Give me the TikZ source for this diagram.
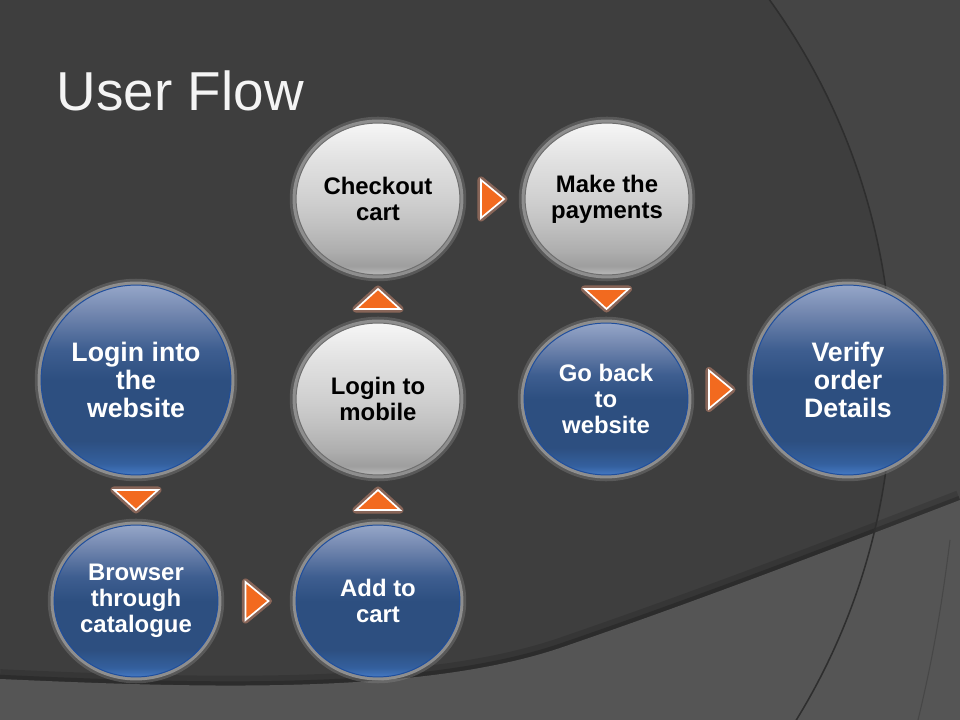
\documentclass[tikz,border=0pt]{standalone}
\usepackage{fontspec}
\setmainfont{Liberation Sans}
\usetikzlibrary{shapes.geometric,calc}

\definecolor{bgdark}{HTML}{3E3E3E}
\definecolor{bgright}{HTML}{454545}
\definecolor{bgband}{HTML}{555555}
\definecolor{arcline}{HTML}{2E2E2E}
\definecolor{titlecol}{HTML}{F4F4F4}
\definecolor{bA}{HTML}{4479C4}
\definecolor{bB}{HTML}{34609E}
\definecolor{bC}{HTML}{2D4F80}
\definecolor{bD}{HTML}{3E5E90}
\definecolor{bE}{HTML}{7488B0}
\definecolor{bF}{HTML}{95A6C8}
\definecolor{gA}{HTML}{B8B8B8}
\definecolor{gB}{HTML}{9E9E9E}
\definecolor{gC}{HTML}{AEAEAE}
\definecolor{gD}{HTML}{C2C2C2}
\definecolor{gE}{HTML}{D0D0D0}
\definecolor{gG}{HTML}{E0E0E0}
\definecolor{gF}{HTML}{F6F6F6}
\definecolor{blueline}{HTML}{1F4E9C}
\definecolor{grayline}{HTML}{6E6E6E}
\definecolor{glowcol}{HTML}{8E8E8E}
\definecolor{triorange}{HTML}{F26A1F}
\definecolor{triglow}{HTML}{B07A66}

\pgfdeclareverticalshading{bluegloss}{100bp}{color(0bp)=(bA); color(25bp)=(bA); color(28bp)=(bB); color(34bp)=(bC); color(50bp)=(bC); color(58bp)=(bD); color(68bp)=(bE); color(75bp)=(bF); color(100bp)=(bF)}
\pgfdeclareverticalshading{graygloss}{100bp}{color(0bp)=(gA); color(25bp)=(gA); color(28bp)=(gB); color(33bp)=(gC); color(42bp)=(gD); color(50bp)=(gE); color(62bp)=(gG); color(75bp)=(gF); color(100bp)=(gF)}

\tikzset{
  x=0.025cm, y=-0.025cm,
  flowbase/.style={ellipse, inner sep=0pt, align=center,
    preaction={draw=glowcol, opacity=0.35, line width=9pt},
    preaction={draw=glowcol, line width=5pt}},
  bigblue/.style={flowbase, minimum width=135pt, minimum height=135pt,
    shading=bluegloss, draw=blueline, line width=0.7pt, text=white,
    font=\bfseries\fontsize{19}{20}\selectfont},
  smallblue/.style={flowbase, minimum width=116.5pt, minimum height=108pt,
    shading=bluegloss, draw=blueline, line width=0.7pt, text=white,
    font=\bfseries\fontsize{17}{18.5}\selectfont},
  smallgray/.style={flowbase, minimum width=116.5pt, minimum height=108pt,
    shading=graygloss, draw=grayline, line width=0.7pt, text=black,
    font=\bfseries\fontsize{17}{18.5}\selectfont},
  tri/.style={fill=triorange, draw=white, line width=1.2pt, line join=miter,
    preaction={draw=triglow, opacity=0.65, line width=5pt, line join=round}},
}

\begin{document}
\begin{tikzpicture}
\useasboundingbox (0,0) rectangle (960,720);
% background
\begin{scope}
  \clip (0,0) rectangle (960,720);
  \fill[bgright] (0,0) rectangle (960,720);
  \fill[bgdark] (242,380) circle[radius=16.25cm];
  \draw[black, opacity=0.12, line width=14pt]
    (0,679) .. controls (200,688) and (420,695) .. (560,648)
    .. controls (700,600) and (830,550) .. (960,500);
  \draw[black, opacity=0.18, line width=6pt]
    (0,679) .. controls (200,688) and (420,695) .. (560,648)
    .. controls (700,600) and (830,550) .. (960,500);
  \fill[bgband] (0,679) .. controls (200,688) and (420,695) .. (560,648)
    .. controls (700,600) and (830,550) .. (960,500) -- (960,720) -- (0,720) -- cycle;
  \draw[arcline, line width=1.1pt] (242,380) circle[radius=16.25cm];
  \draw[arcline, opacity=0.35, line width=0.8pt] (950,540) .. controls (940,620) and (930,670) .. (918,720);
\end{scope}

% title
\node[anchor=base west, text=titlecol, font=\fontsize{39}{47}\selectfont] (title) at (52,111) {User Flow};

% nodes
\node[bigblue]   (login)    at (136,380) {Login into\\the\\website};
\node[smallblue] (browse)   at (136,601) {Browser\\through\\catalogue};
\node[smallblue] (add)      at (378,601) {Add to\\cart};
\node[smallgray] (mobile)   at (378,399) {Login to\\mobile};
\node[smallgray] (checkout) at (378,199) {Checkout\\cart};
\node[smallgray] (pay)      at (607,199) {Make the\\payments};
\node[smallblue] (back)     at (606,399) {Go back\\to\\website};
\node[bigblue]   (verify)   at (848,380) {Verify\\order\\Details};

% arrow markers
\path (login.south) -- (browse.north) coordinate[pos=0.5] (t1);
\path (browse.east) -- (add.west) coordinate[pos=0.5] (t2);
\path (add.north) -- (mobile.south) coordinate[pos=0.5] (t3);
\path (mobile.north) -- (checkout.south) coordinate[pos=0.5] (t4);
\path (checkout.east) -- (pay.west) coordinate[pos=0.5] (t5);
\path (pay.south) -- (back.north) coordinate[pos=0.5] (t6);
\path (back.east) -- (verify.west) coordinate[pos=0.5] (t7);

% down
\draw[tri] ($(t1)+(-22,-10)$) -- ($(t1)+(22,-10)$) -- ($(t1)+(0,10)$) -- cycle;
\draw[tri] ($(t6)+(-22,-10)$) -- ($(t6)+(22,-10)$) -- ($(t6)+(0,10)$) -- cycle;
% up
\draw[tri] ($(t3)+(-22,10)$) -- ($(t3)+(22,10)$) -- ($(t3)+(0,-10)$) -- cycle;
\draw[tri] ($(t4)+(-22,10)$) -- ($(t4)+(22,10)$) -- ($(t4)+(0,-10)$) -- cycle;
% right
\draw[tri] ($(t2)+(-11.5,-19)$) -- ($(t2)+(11.5,0)$) -- ($(t2)+(-11.5,19)$) -- cycle;
\draw[tri] ($(t5)+(-11.5,-19)$) -- ($(t5)+(11.5,0)$) -- ($(t5)+(-11.5,19)$) -- cycle;
\draw[tri] ($(t7)+(-11.5,-19)$) -- ($(t7)+(11.5,0)$) -- ($(t7)+(-11.5,19)$) -- cycle;
\end{tikzpicture}
\end{document}
